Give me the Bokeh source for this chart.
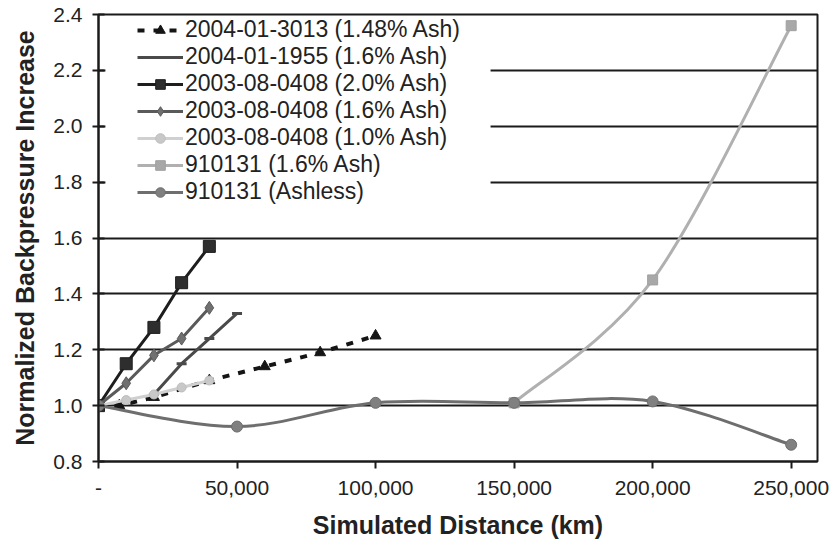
from bokeh.plotting import figure
from bokeh.models import (Range1d, FixedTicker, CustomJSTickFormatter, NumeralTickFormatter,
                          Legend, LegendItem, BoxAnnotation, ColumnDataSource)
from bokeh.embed import file_html
from bokeh.resources import INLINE

# ---------------- data ----------------
x_3013 = [0, 7500, 20000, 40000, 60000, 80000, 100000]
y_3013 = [1.00, 1.00, 1.03, 1.09, 1.14, 1.19, 1.25]

x_1955 = [20000, 30000, 40000, 50000]
y_1955 = [1.04, 1.15, 1.24, 1.33]

x_2003 = [0, 10000, 20000, 30000, 40000]
y_2003_20 = [1.00, 1.15, 1.28, 1.44, 1.57]
y_2003_16 = [1.00, 1.08, 1.18, 1.24, 1.35]
y_2003_10 = [1.00, 1.02, 1.04, 1.065, 1.09]

x_910131_ash = [150000, 200000, 250000]
y_910131_ash = [1.01, 1.45, 2.36]

x_910131_nash = [0, 50000, 100000, 150000, 200000, 250000]
y_910131_nash = [1.00, 0.925, 1.01, 1.01, 1.015, 0.86]

labels = ["2004-01-3013 (1.48% Ash)", "2004-01-1955 (1.6% Ash)", "2003-08-0408 (2.0% Ash)",
          "2003-08-0408 (1.6% Ash)", "2003-08-0408 (1.0% Ash)", "910131 (1.6% Ash)",
          "910131 (Ashless)"]

x_ticks = [0, 50000, 100000, 150000, 200000, 250000]
y_ticks = [0.8, 1.0, 1.2, 1.4, 1.6, 1.8, 2.0, 2.2, 2.4]


def smooth_segments(xs, ys):
    """Excel-like smoothed line: cubic Bezier control points from neighbours."""
    n = len(xs)
    d = dict(x0=[], y0=[], x1=[], y1=[], cx0=[], cy0=[], cx1=[], cy1=[])
    for i in range(n - 1):
        i0 = max(i - 1, 0)
        i3 = min(i + 2, n - 1)
        d["x0"].append(xs[i]); d["y0"].append(ys[i])
        d["x1"].append(xs[i + 1]); d["y1"].append(ys[i + 1])
        d["cx0"].append(xs[i] + (xs[i + 1] - xs[i0]) / 6.0)
        d["cy0"].append(ys[i] + (ys[i + 1] - ys[i0]) / 6.0)
        d["cx1"].append(xs[i + 1] - (xs[i3] - xs[i]) / 6.0)
        d["cy1"].append(ys[i + 1] - (ys[i3] - ys[i]) / 6.0)
    return ColumnDataSource(d)


FONT = "Liberation Sans"
TXT = "#222222"

p = figure(width=838, height=550, output_backend="svg", toolbar_location=None,
           x_range=Range1d(0, 259500), y_range=Range1d(0.8, 2.4),
           min_border_left=98, min_border_right=21, min_border_top=14, min_border_bottom=89)
p.background_fill_color = "white"
p.border_fill_color = "white"
p.outline_line_color = "#1a1a1a"
p.outline_line_width = 2

# grid
p.xgrid.visible = False
p.ygrid.grid_line_color = "#1a1a1a"
p.ygrid.grid_line_width = 2

# white area behind legend (legend box reaches close to the y axis)
p.add_layout(BoxAnnotation(left=2500, right=141500, top=2.395, bottom=1.71,
                           fill_color="white", fill_alpha=1.0, line_alpha=0,
                           level="underlay"))

# axes
xa = p.xaxis[0]
xa.ticker = FixedTicker(ticks=x_ticks)
xa.formatter = CustomJSTickFormatter(code="""
    if (tick == 0) { return '-'; }
    return tick.toFixed(0).replace(/\\B(?=(\\d{3})+(?!\\d))/g, ',');
""")
xa.axis_label = "Simulated Distance (km)"
xa.major_tick_in = 0
xa.major_tick_out = 7
xa.minor_tick_line_color = None

ya = p.yaxis[0]
ya.ticker = FixedTicker(ticks=y_ticks)
ya.formatter = NumeralTickFormatter(format="0.0")
ya.axis_label = "Normalized Backpressure Increase"
ya.major_tick_in = 6
ya.major_tick_out = 6
ya.minor_tick_line_color = None

for ax in (xa, ya):
    ax.axis_line_color = "#1a1a1a"
    ax.axis_line_width = 2
    ax.major_tick_line_color = "#1a1a1a"
    ax.major_tick_line_width = 2
    ax.major_label_text_font = FONT
    ax.major_label_text_font_size = "21px"
    ax.major_label_text_color = TXT
    ax.axis_label_text_font = FONT
    ax.axis_label_text_font_size = "25px"
    ax.axis_label_text_font_style = "bold"
    ax.axis_label_text_color = TXT
xa.major_label_standoff = 12
xa.axis_label_standoff = 13
ya.major_label_standoff = 10
ya.axis_label_standoff = 11

items = []

# 2004-01-3013 (1.48% Ash) dashed black with triangles
r1 = p.line(x_3013, y_3013, line_color="#151515", line_width=4, line_dash="7 9")
m1 = p.scatter(x_3013, y_3013, marker="triangle", size=11, fill_color="#151515",
               line_color="#151515")
items.append(LegendItem(label=labels[0], renderers=[r1, m1]))

# 2004-01-1955 (1.6% Ash)
r2 = p.line(x_1955, y_1955, line_color="#4a4a4a", line_width=3)
m2 = p.scatter(x_1955, y_1955, marker="dash", size=10, line_color="#4a4a4a", line_width=3)
items.append(LegendItem(label=labels[1], renderers=[r2]))

# 2003-08-0408 (2.0% Ash)
r3 = p.line(x_2003, y_2003_20, line_color="#1e1e1e", line_width=3)
m3 = p.scatter(x_2003, y_2003_20, marker="square", size=12, fill_color="#2e2e2e",
               line_color="#1e1e1e")
items.append(LegendItem(label=labels[2], renderers=[r3, m3]))

# 2003-08-0408 (1.6% Ash)
r4 = p.line(x_2003, y_2003_16, line_color="#5a5a5a", line_width=3)
m4 = p.scatter(x_2003, y_2003_16, marker="diamond", size=13, fill_color="#707070",
               line_color="#5a5a5a")
items.append(LegendItem(label=labels[3], renderers=[r4, m4]))

# 2003-08-0408 (1.0% Ash)
r5 = p.line(x_2003, y_2003_10, line_color="#d0d0d0", line_width=3)
m5 = p.scatter(x_2003, y_2003_10, marker="circle", size=9, fill_color="#c8c8c8",
               line_color="#bdbdbd")
items.append(LegendItem(label=labels[4], renderers=[r5, m5]))

# 910131 (1.6% Ash) smoothed
s6 = smooth_segments(x_910131_ash, y_910131_ash)
r6 = p.bezier(x0="x0", y0="y0", x1="x1", y1="y1", cx0="cx0", cy0="cy0", cx1="cx1", cy1="cy1",
              source=s6, line_color="#b0b0b0", line_width=3)
m6 = p.scatter(x_910131_ash, y_910131_ash, marker="square", size=10, fill_color="#a8a8a8",
               line_color="#a0a0a0")
items.append(LegendItem(label=labels[5], renderers=[r6, m6]))

# 910131 (Ashless) smoothed
s7 = smooth_segments(x_910131_nash, y_910131_nash)
r7 = p.bezier(x0="x0", y0="y0", x1="x1", y1="y1", cx0="cx0", cy0="cy0", cx1="cx1", cy1="cy1",
              source=s7, line_color="#6e6e6e", line_width=3)
m7 = p.scatter(x_910131_nash, y_910131_nash, marker="circle", size=11, fill_color="#808080",
               line_color="#6e6e6e")
items.append(LegendItem(label=labels[6], renderers=[r7, m7]))

legend = Legend(items=items, location=(39, 256), padding=0, spacing=-4, margin=0,
                glyph_width=46, glyph_height=24, label_height=24, label_standoff=2,
                label_text_font=FONT, label_text_font_size="23px",
                label_text_color=TXT, background_fill_color="white",
                background_fill_alpha=1.0, border_line_alpha=0)
p.add_layout(legend)

open("out.html", "w").write(file_html(p, INLINE))
